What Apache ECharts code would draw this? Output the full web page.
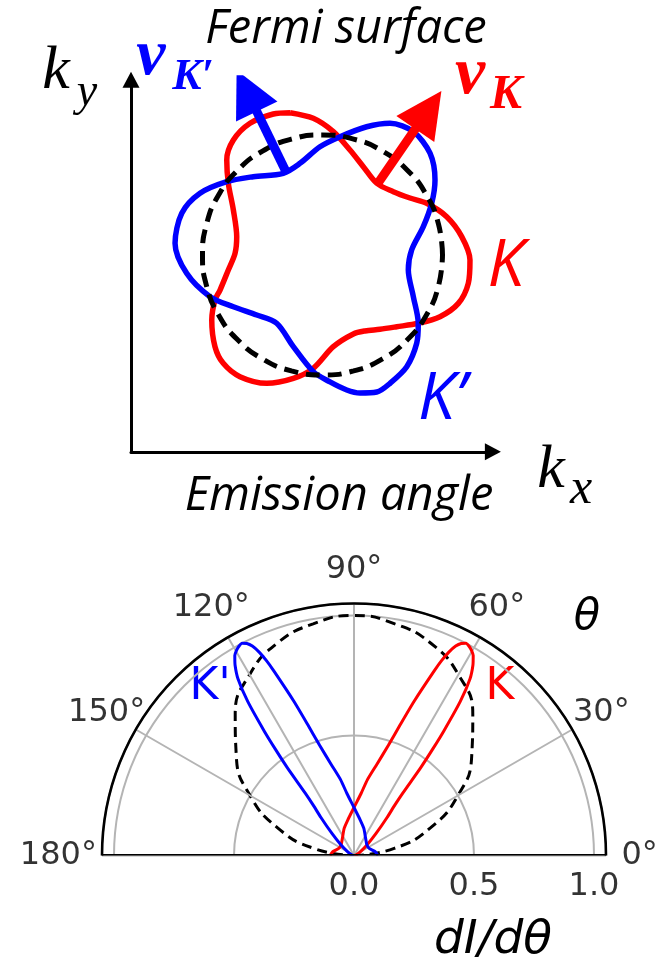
<!DOCTYPE html>
<html>
<head>
<meta charset="utf-8">
<script src="https://cdn.jsdelivr.net/npm/echarts@6/dist/echarts.min.js"></script>
<style>
  html, body { margin: 0; padding: 0; background: #ffffff; }
  #chart { width: 661px; height: 960px; }
</style>
</head>
<body>
<div id="chart"></div>
<script>
// ---------- Fermi surface in k-space (unit = Fermi radius) ----------
const fermiCircle = [
  [1, 0], [0.966, 0.259], [0.866, 0.5], [0.707, 0.707], [0.5, 0.866], [0.259, 0.966],
  [0, 1], [-0.259, 0.966], [-0.5, 0.866], [-0.707, 0.707], [-0.866, 0.5], [-0.966, 0.259],
  [-1, 0], [-0.966, -0.259], [-0.866, -0.5], [-0.707, -0.707], [-0.5, -0.866], [-0.259, -0.966],
  [0, -1], [0.259, -0.966], [0.5, -0.866], [0.707, -0.707], [0.866, -0.5], [0.966, -0.259], [1, 0]
];
const valleyK = [
  [-0.271, 1.186], [-0.077, 1.139], [0.090, 1.028], [0.229, 0.875], [0.340, 0.736], [0.452, 0.598],
  [0.590, 0.528], [0.729, 0.475], [0.868, 0.431], [1.035, 0.319], [1.160, 0.153], [1.229, -0.042],
  [1.215, -0.236], [1.132, -0.403], [0.979, -0.514], [0.798, -0.569], [0.618, -0.598], [0.479, -0.619],
  [0.354, -0.633], [0.257, -0.658], [0.090, -0.764], [-0.077, -0.944], [-0.243, -1.028], [-0.465, -1.069],
  [-0.688, -1.014], [-0.827, -0.903], [-0.896, -0.764], [-0.923, -0.542], [-0.896, -0.375], [-0.854, -0.292],
  [-0.785, -0.125], [-0.729, 0.014], [-0.715, 0.153], [-0.743, 0.375], [-0.785, 0.598], [-0.798, 0.792],
  [-0.743, 0.958], [-0.604, 1.098], [-0.410, 1.175], [-0.271, 1.186]
];
const valleyKp = [
  [0.146, 0.986], [0.368, 1.069], [0.5625, 1.098], [0.757, 1.028], [0.896, 0.848], [0.9375, 0.625],
  [0.910, 0.431], [0.840, 0.236], [0.743, 0.042], [0.715, -0.125], [0.757, -0.347], [0.798, -0.569],
  [0.785, -0.736], [0.702, -0.931], [0.5625, -1.069], [0.452, -1.142], [0.3125, -1.15], [0.202, -1.125],
  [0.0625, -1.058], [-0.077, -0.972], [-0.243, -0.764], [-0.382, -0.569], [-0.548, -0.5], [-0.743, -0.431],
  [-0.9375, -0.347], [-1.132, -0.153], [-1.229, 0.0975], [-1.173, 0.3475], [-1.021, 0.514], [-0.798, 0.611],
  [-0.577, 0.6525], [-0.327, 0.681], [-0.1875, 0.764], [-0.021, 0.9025], [0.146, 0.986]
];
// group velocity arrows: foot on the contour, head centre
const velocityK = [[0.452, 0.583], [0.882, 1.208]];
const velocityKp = [[-0.298, 0.681], [-0.632, 1.368]];

// ---------- Angular emission pattern dI/dθ ----------
const circleAngles = [0, 10, 20, 30, 40, 50, 60, 70, 80, 90, 100, 110, 120, 130, 140, 150, 160, 170, 180];
const circleValues = [0, 0.17, 0.34, 0.5, 0.64, 0.77, 0.87, 0.94, 0.98, 1.0, 0.98, 0.94, 0.87, 0.77, 0.64, 0.5, 0.34, 0.17, 0];

const kAngles = [0, 15, 30, 40, 45, 49, 51, 52, 52.8, 53.5, 54.2, 55.4, 56.7, 58, 59.2, 60.2, 61.2, 62.2, 63.2, 64.1,
  65, 65.8, 66.5, 68.7, 70.5, 72.7, 76, 80, 83.5, 90, 100, 110, 125, 140, 155, 170, 180];
const kValues = [0, 0.01, 0.03, 0.075, 0.13, 0.21, 0.27, 0.33, 0.46, 0.55, 0.64, 0.78, 0.88, 0.935, 0.97, 0.985, 0.995, 1.0, 0.99, 0.97,
  0.935, 0.89, 0.84, 0.69, 0.58, 0.48, 0.39, 0.32, 0.26, 0.20, 0.15, 0.12, 0.085, 0.07, 0.07, 0.09, 0.10];

const kpAngles = [180, 165, 150, 140, 135, 131, 129, 128, 127.2, 126.5, 125.8, 124.6, 123.3, 122, 120.8, 119.8, 118.8, 117.8, 116.8, 115.9,
  115, 114.2, 113.5, 111.3, 109.5, 107.3, 104, 100, 96.5, 90, 80, 70, 55, 40, 25, 10, 0];
const kpValues = [0, 0.01, 0.03, 0.075, 0.13, 0.21, 0.27, 0.33, 0.46, 0.55, 0.64, 0.78, 0.88, 0.935, 0.97, 0.985, 0.995, 1.0, 0.99, 0.97,
  0.935, 0.89, 0.84, 0.69, 0.58, 0.48, 0.39, 0.32, 0.26, 0.20, 0.15, 0.12, 0.085, 0.07, 0.07, 0.09, 0.10];

const angleTicks = [0, 30, 60, 90, 120, 150, 180];
const radiusTicks = [0, 0.5, 1.0];
const radiusMax = 1.05;

// ---------- helpers ----------
const RED = '#ff0000';
const BLUE = '#0000ff';
const INK = '#000000';
const pairs = (angles, values) => angles.map((a, i) => [values[i], a]);
const LABEL_R = 1.19;

const chart = echarts.init(document.getElementById('chart'), null, { renderer: 'canvas' });

const hiddenAxisParts = {
  axisTick: { show: false },
  axisLabel: { show: false },
  splitLine: { show: false }
};

const option = {
  animation: false,
  backgroundColor: '#ffffff',
  grid: { left: 131, top: 79.8, width: 361.9, height: 372 },
  xAxis: Object.assign({
    type: 'value', min: -1.596, max: 1.42,
    axisLine: { show: true, onZero: false, symbol: ['none', 'triangle'], symbolSize: [17, 16],
      lineStyle: { color: '#000', width: 3 } }
  }, hiddenAxisParts),
  yAxis: Object.assign({
    type: 'value', min: -1.64, max: 1.46,
    axisLine: { show: true, onZero: false, symbol: ['none', 'triangle'], symbolSize: [17, 16],
      lineStyle: { color: '#000', width: 3 } }
  }, hiddenAxisParts),
  polar: { center: [354, 855.5], radius: 252 },
  angleAxis: {
    type: 'value', min: 0, max: 180, interval: 30,
    startAngle: 0, endAngle: 180, clockwise: false, z: 5,
    axisLine: { show: true, lineStyle: { color: '#000', width: 2.6 } },
    axisTick: { show: false },
    axisLabel: { show: false },
    splitLine: { show: true, lineStyle: { color: '#b4b4b4', width: 2 } }
  },
  radiusAxis: {
    type: 'value', min: 0, max: radiusMax, interval: 0.5, z: 1,
    axisLine: { show: false },
    axisTick: { show: false },
    axisLabel: { show: false },
    splitLine: { show: true, lineStyle: { color: '#b4b4b4', width: 2 } }
  },
  series: [
    // Fermi contours
    { type: 'line', data: valleyK, symbol: 'none', smooth: 0.3, z: 3,
      lineStyle: { color: RED, width: 5.5 } },
    { type: 'line', data: valleyKp, symbol: 'none', smooth: 0.3, z: 4,
      lineStyle: { color: BLUE, width: 5.5 } },
    { type: 'line', data: fermiCircle, symbol: 'none', smooth: true, z: 5,
      lineStyle: { color: '#000', width: 5, type: [14, 8] } },
    // velocity arrows
    { type: 'lines', coordinateSystem: 'cartesian2d', z: 6, symbol: ['none', 'triangle'], symbolSize: 46,
      lineStyle: { color: BLUE, width: 9, opacity: 1 }, data: [{ coords: velocityKp }] },
    { type: 'lines', coordinateSystem: 'cartesian2d', z: 6, symbol: ['none', 'triangle'], symbolSize: 46,
      lineStyle: { color: RED, width: 9, opacity: 1 }, data: [{ coords: velocityK }] },

    // emission pattern
    { type: 'line', coordinateSystem: 'polar', data: pairs(circleAngles, circleValues), symbol: 'none',
      smooth: true, clip: false, z: 4, lineStyle: { color: '#000', width: 3, type: [10, 6] } },
    { type: 'line', coordinateSystem: 'polar', data: pairs(kAngles, kValues), symbol: 'none',
      smooth: 0.2, clip: false, z: 5, lineStyle: { color: RED, width: 3 } },
    { type: 'line', coordinateSystem: 'polar', data: pairs(kpAngles, kpValues), symbol: 'none',
      smooth: 0.2, clip: false, z: 5, lineStyle: { color: BLUE, width: 3 } },
    // straight edge of the half-disc
    { type: 'line', coordinateSystem: 'polar', data: [[radiusMax, 180], [radiusMax, 0]], symbol: 'none',
      clip: false, z: 6, lineStyle: { color: '#000', width: 3.2 } },
    // angle tick labels
    { type: 'scatter', coordinateSystem: 'polar', symbolSize: 1, clip: false, silent: true,
      itemStyle: { color: 'rgba(0,0,0,0)' },
      data: angleTicks.map(a => ({ value: [LABEL_R, a], label: a === 180 ? { offset: [-10, 0] } : {} })),
      label: { show: true, position: 'inside', formatter: p => p.value[1] + '°',
        fontFamily: 'DejaVu Sans', fontSize: 32, color: INK } },
    // radius tick labels
    { type: 'scatter', coordinateSystem: 'polar', symbolSize: 1, clip: false, silent: true,
      itemStyle: { color: 'rgba(0,0,0,0)' },
      data: radiusTicks.map(r => [r, 0]),
      label: { show: true, position: 'inside', offset: [0, 31], formatter: p => p.value[0].toFixed(1),
        fontFamily: 'DejaVu Sans', fontSize: 32, color: INK } }
  ],
  graphic: [
    // upper panel
    { type: 'text', x: 346, y: 30, style: { text: 'Fermi surface', font: 'italic 47px "Open Sans"', fill: '#000', align: 'center', verticalAlign: 'middle' } },
    { type: 'text', x: 339, y: 497, style: { text: 'Emission angle', font: 'italic 47px "Open Sans"', fill: '#000', align: 'center', verticalAlign: 'middle' } },
    { type: 'text', x: 56, y: 72, style: { text: 'k', font: 'italic 62px "Liberation Serif"', fill: '#000', align: 'center', verticalAlign: 'middle' } },
    { type: 'text', x: 87, y: 93, style: { text: 'y', font: 'italic 46px "Liberation Serif"', fill: '#000', align: 'center', verticalAlign: 'middle' } },
    { type: 'text', x: 551, y: 471, style: { text: 'k', font: 'italic 62px "Liberation Serif"', fill: '#000', align: 'center', verticalAlign: 'middle' } },
    { type: 'text', x: 581, y: 490, style: { text: 'x', font: 'italic 50px "Liberation Serif"', fill: '#000', align: 'center', verticalAlign: 'middle' } },
    { type: 'text', x: 151, y: 57, style: { text: 'v', font: 'italic bold 66px "Liberation Serif"', fill: BLUE, align: 'center', verticalAlign: 'middle' } },
    { type: 'text', x: 193, y: 78, style: { text: 'K′', font: 'italic bold 44px "Liberation Serif"', fill: BLUE, align: 'center', verticalAlign: 'middle' } },
    { type: 'text', x: 470, y: 75, style: { text: 'v', font: 'italic bold 68px "Liberation Serif"', fill: RED, align: 'center', verticalAlign: 'middle' } },
    { type: 'text', x: 506, y: 96, style: { text: 'K', font: 'italic bold 48px "Liberation Serif"', fill: RED, align: 'center', verticalAlign: 'middle' } },
    { type: 'text', x: 506, y: 267, style: { text: 'K', font: 'italic 66px "Open Sans"', fill: RED, align: 'center', verticalAlign: 'middle' } },
    { type: 'text', x: 442, y: 400, style: { text: 'K’', font: 'italic 66px "Open Sans"', fill: BLUE, align: 'center', verticalAlign: 'middle' } },
    // lower panel
    { type: 'text', x: 210, y: 688, style: { text: "K'", font: '44px "DejaVu Sans"', fill: BLUE, align: 'center', verticalAlign: 'middle' } },
    { type: 'text', x: 500, y: 688, style: { text: 'K', font: '44px "DejaVu Sans"', fill: RED, align: 'center', verticalAlign: 'middle' } },
    { type: 'text', x: 587, y: 618, style: { text: 'θ', font: 'italic 43px "DejaVu Sans"', fill: INK, align: 'center', verticalAlign: 'middle' } },
    { type: 'text', x: 493, y: 941, style: { text: 'dI/dθ', font: 'italic 47px "DejaVu Sans"', fill: INK, align: 'center', verticalAlign: 'middle' } }
  ]
};

chart.setOption(option);
</script>
</body>
</html>
